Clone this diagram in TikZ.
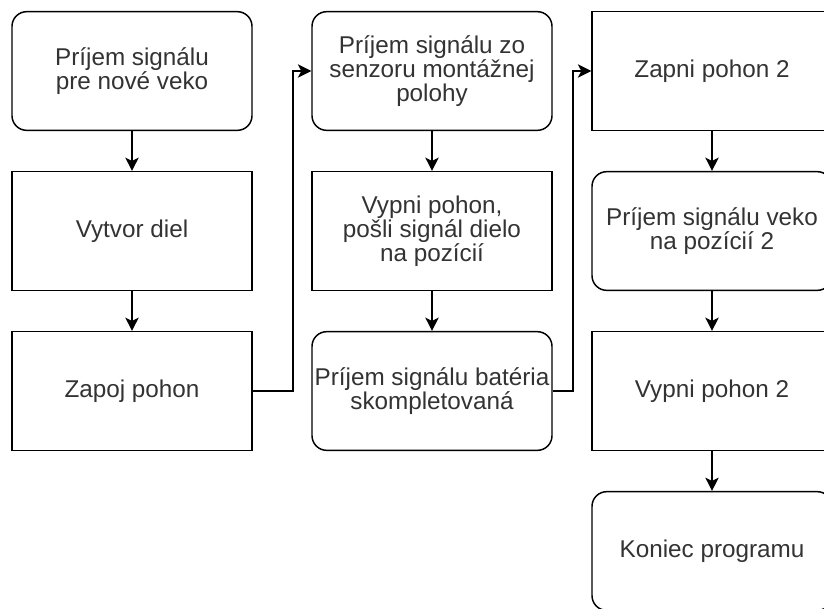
\documentclass[tikz,border=0pt]{standalone}
\usepackage{fontspec}
\setmainfont{Liberation Sans}
\usepackage{xcolor}
\usetikzlibrary{arrows.meta,positioning,calc}
\definecolor{txtgray}{HTML}{333333}

\begin{document}
\begin{tikzpicture}[x=0.75pt,y=-0.75pt,
  box/.style={draw=black,line width=1.1pt,fill=white,minimum width=180pt,minimum height=89pt,
    inner sep=0pt,align=center,text=txtgray,font=\fontsize{18.2}{18}\selectfont},
  rbox/.style={box,rounded corners=11pt},
  arr/.style={line width=1.1pt,-{Stealth[length=10pt,width=10pt,inset=2.5pt]}}]
\useasboundingbox (0,0) rectangle (824,608);
\clip (0,0) rectangle (824,608);

% First column
\node[rbox] (novevek) at (132,71) {Príjem signálu\\pre nové veko};
\node[box] (vytvor) at (132,231) {Vytvor diel};
\node[box] (zapoj) at (132,391) {Zapoj pohon};

% Second column
\node[rbox] (senzor) at (432,71) {Príjem signálu zo\\senzoru montážnej\\polohy};
\node[box] (vypni) at (432,231) {Vypni pohon,\\pošli signál dielo\\na pozícií};
\node[rbox] (bateria) at (432,391) {Príjem signálu batéria\\skompletovaná};

% Third column
\node[box] (zapni2) at (712,71) {Zapni pohon 2};
\node[rbox] (veko2) at (712,231) {Príjem signálu veko\\na pozícií 2};
\node[box] (vypni2) at (712,391) {Vypni pohon 2};
\node[rbox] (koniec) at (712,551) {Koniec programu};

% Connectors
\draw[arr] (novevek) -- (vytvor);
\draw[arr] (vytvor) -- (zapoj);
\draw[arr] (senzor) -- (vypni);
\draw[arr] (vypni) -- (bateria);
\draw[arr] (zapni2) -- (veko2);
\draw[arr] (veko2) -- (vypni2);
\draw[arr] (vypni2) -- (koniec);

\coordinate (bend1) at (293,391);
\coordinate (bend2) at (573,391);
\draw[arr] (zapoj.east) -- (bend1) |- (senzor.west);
\draw[arr] (bateria.east) -- (bend2) |- (zapni2.west);
\end{tikzpicture}
\end{document}
